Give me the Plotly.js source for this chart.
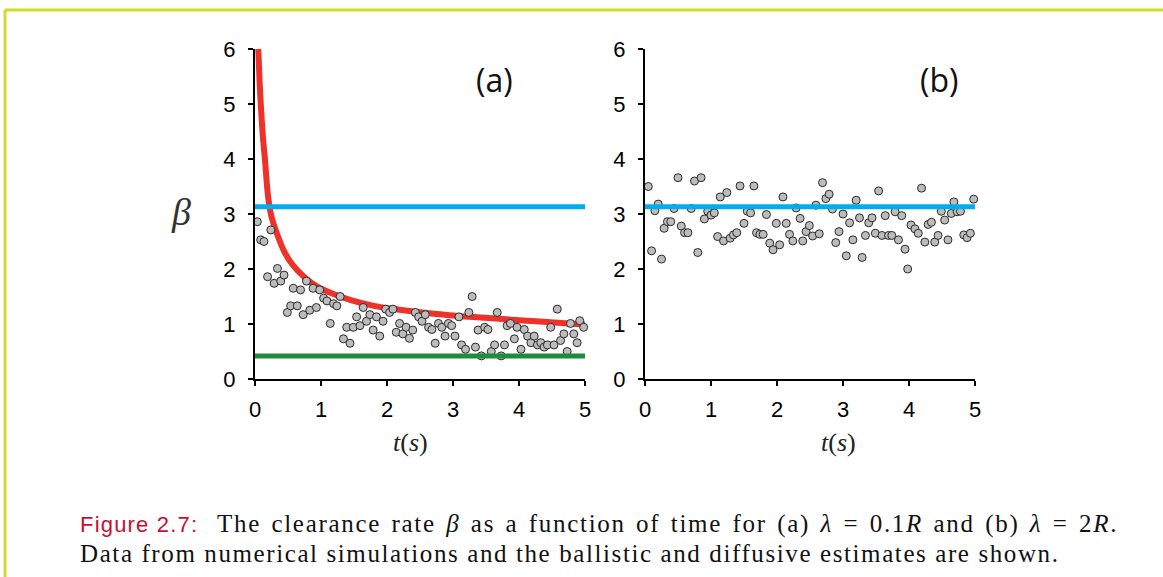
<!DOCTYPE html>
<html>
<head>
<meta charset="utf-8">
<script src="https://cdn.plot.ly/plotly-3.0.1.min.js"></script>
<style>html,body{margin:0;padding:0;background:#fff;}#chart{width:1163px;height:577px;}</style>
</head>
<body>
<div id="chart"></div>
<script>
// ---- Data ----
const tA = [0.035,0.086,0.136,0.24,0.19,0.34,0.29,0.39,0.44,0.49,0.54,0.58,0.64,0.69,0.73,0.78,0.83,0.88,0.93,0.98,
1.04,1.09,1.14,1.19,1.24,1.29,1.34,1.39,1.44,1.49,1.54,1.59,1.64,1.69,1.74,1.79,1.84,1.89,1.94,1.98,
2.04,2.09,2.14,2.19,2.24,2.29,2.34,2.39,2.43,2.48,2.53,2.58,2.63,2.68,2.73,2.78,2.83,2.88,2.93,2.98,
3.03,3.09,3.13,3.19,3.24,3.29,3.34,3.38,3.43,3.48,3.53,3.58,3.63,3.67,3.73,3.78,3.82,3.87,3.93,3.97,
4.03,4.08,4.13,4.18,4.23,4.28,4.33,4.38,4.43,4.48,4.53,4.58,4.63,4.68,4.73,4.78,4.83,4.88,4.92,4.98];
const betaA = [2.86,2.53,2.50,2.71,1.86,2.01,1.74,1.78,1.89,1.21,1.33,1.65,1.33,1.62,1.17,1.78,1.25,1.65,1.30,1.62,
1.47,1.42,1.01,1.37,1.33,1.50,0.73,0.94,0.65,0.94,1.13,0.97,1.30,1.05,1.17,0.89,1.13,0.78,1.05,1.27,
1.21,1.27,0.85,1.01,0.82,0.94,0.74,0.89,1.21,1.13,1.05,1.17,0.94,0.90,0.65,1.01,0.94,0.78,1.01,0.97,
0.78,1.13,0.62,0.54,1.21,1.50,0.58,0.89,0.42,0.94,0.90,0.50,0.62,1.21,0.42,0.62,0.97,1.01,0.73,0.94,
0.54,0.90,0.78,0.66,0.78,0.62,0.66,0.58,0.62,0.94,0.62,1.27,0.70,0.82,0.50,1.01,0.82,0.66,1.06,0.94];

const tB = [0.05,0.10,0.15,0.20,0.25,0.29,0.34,0.39,0.44,0.50,0.55,0.60,0.65,0.70,0.75,0.80,0.85,0.90,0.95,1.00,
1.05,1.10,1.14,1.19,1.24,1.29,1.34,1.39,1.44,1.50,1.55,1.60,1.65,1.69,1.74,1.79,1.84,1.89,1.94,1.99,
2.04,2.09,2.14,2.19,2.24,2.29,2.35,2.39,2.44,2.49,2.54,2.59,2.64,2.69,2.74,2.79,2.84,2.89,2.94,3.00,
3.05,3.10,3.15,3.20,3.25,3.29,3.34,3.39,3.44,3.49,3.54,3.59,3.64,3.69,3.74,3.79,3.84,3.89,3.94,3.98,
4.03,4.09,4.14,4.19,4.24,4.29,4.34,4.39,4.44,4.49,4.54,4.59,4.64,4.68,4.73,4.78,4.83,4.88,4.93,4.98];
const betaB = [3.50,2.33,3.06,3.18,2.18,2.74,2.86,2.86,3.10,3.66,2.78,2.66,2.66,3.10,3.60,2.30,3.66,2.91,3.05,2.98,
3.02,2.59,3.31,2.51,3.39,2.56,2.62,2.66,3.51,2.83,3.05,3.02,3.51,2.66,2.63,2.63,2.99,2.47,2.35,2.83,
2.44,3.31,2.83,2.63,2.51,3.11,2.92,2.51,2.68,2.79,2.60,3.16,2.64,3.57,3.28,3.36,3.09,2.48,2.68,3.00,
2.24,2.84,2.53,3.25,2.93,2.21,2.61,2.84,2.93,2.65,3.42,2.61,2.97,2.61,2.61,3.04,2.53,2.97,2.36,2.00,
2.80,2.73,2.65,3.47,2.49,2.81,2.85,2.49,2.61,3.05,2.89,2.53,3.01,3.22,3.04,3.05,2.62,2.57,2.65,3.27];

// red estimate curve (panel a), read at sample times
const curveT = [0.05,0.07,0.09,0.12,0.15,0.2,0.25,0.33,0.45,0.58,0.75,0.93,1.2,1.44,1.8,2.25,2.75,3.25,3.75,4.25,4.75,5.0];
const curveBeta = [6.0,5.4,4.95,4.4,4.0,3.3,2.95,2.65,2.3,2.06,1.85,1.69,1.54,1.44,1.33,1.25,1.18,1.13,1.09,1.05,1.01,0.99];

// horizontal estimates
const lineT = [0, 5];
const blueBeta = [3.13, 3.13];
const greenBeta = [0.42, 0.42];

const xTicks = [0,1,2,3,4,5];
const yTicks = [0,1,2,3,4,5,6];
const panelLabels = ['(a)', '(b)'];
const captionHead = 'Figure 2.7:';
const captionLine1 = 'The clearance rate <i>β</i> as a function of time for (a) <i>λ</i> = 0.1<i>R</i> and (b) <i>λ</i> = 2<i>R</i>.';
const captionLine2 = 'Data from numerical simulations and the ballistic and diffusive estimates are shown.';

// ---- Layout helpers ----
const W = 1163, H = 577;
const px = v => v / W;
const py = v => 1 - v / H;

const marker = {size: 8, color: '#bcbcbc', line: {color: '#2a2a2a', width: 1}};
const RED = '#ee3129', BLUE = '#00aeef', GREEN = '#1f8b3b';

const traces = [
  {x: curveT, y: curveBeta, mode: 'lines', line: {color: RED, width: 6, shape: 'spline', smoothing: 1}, xaxis: 'x', yaxis: 'y', hoverinfo: 'skip'},
  {x: tA, y: betaA, mode: 'markers', marker: marker, xaxis: 'x', yaxis: 'y', cliponaxis: false},
  {x: lineT, y: blueBeta, mode: 'lines', line: {color: BLUE, width: 5}, xaxis: 'x', yaxis: 'y'},
  {x: lineT, y: greenBeta, mode: 'lines', line: {color: GREEN, width: 5}, xaxis: 'x', yaxis: 'y'},
  {x: tB, y: betaB, mode: 'markers', marker: marker, xaxis: 'x2', yaxis: 'y2', cliponaxis: false},
  {x: lineT, y: blueBeta, mode: 'lines', line: {color: BLUE, width: 5}, xaxis: 'x2', yaxis: 'y2'}
];

const tickFont = {family: 'Liberation Sans, Arial, sans-serif', size: 22, color: '#000'};
function xax(domain, anchor) {
  return {domain: domain, anchor: anchor, range: [0, 5], tickvals: xTicks, ticktext: xTicks.map(String),
    showline: true, linecolor: '#000', linewidth: 2, ticks: 'outside', ticklen: 5, tickwidth: 1.5, tickcolor: '#000',
    showgrid: false, zeroline: false, tickfont: tickFont, ticklabelstandoff: 5, fixedrange: true};
}
function yax(domain, anchor) {
  return {domain: domain, anchor: anchor, range: [0, 6], tickvals: yTicks, ticktext: yTicks.map(String),
    showline: true, linecolor: '#000', linewidth: 2, ticks: 'outside', ticklen: 5, tickwidth: 1.5, tickcolor: '#000',
    showgrid: false, zeroline: false, tickfont: tickFont, ticklabelstandoff: 8, fixedrange: true};
}

const yDom = [py(379), py(49)];
const layout = {
  width: W, height: H, showlegend: false,
  margin: {l: 0, r: 0, t: 0, b: 0, pad: 0},
  paper_bgcolor: '#fff', plot_bgcolor: 'rgba(0,0,0,0)',
  xaxis: xax([px(255), px(585)], 'y'),
  yaxis: yax(yDom, 'x'),
  xaxis2: xax([px(645), px(975)], 'y2'),
  yaxis2: yax(yDom, 'x2'),
  shapes: [
    {type: 'line', xref: 'paper', yref: 'paper', x0: px(5), x1: px(1170), y0: py(10), y1: py(10), line: {color: '#cfdc2e', width: 3}},
    {type: 'line', xref: 'paper', yref: 'paper', x0: px(5), x1: px(5), y0: py(10), y1: py(590), line: {color: '#cfdc2e', width: 3}}
  ],
  annotations: [
    {text: panelLabels[0], xref: 'paper', yref: 'paper', x: px(494), y: py(80), showarrow: false, xanchor: 'center', yanchor: 'middle',
     font: {family: 'Open Sans, sans-serif', size: 32, color: '#111'}},
    {text: panelLabels[1], xref: 'paper', yref: 'paper', x: px(939), y: py(80), showarrow: false, xanchor: 'center', yanchor: 'middle',
     font: {family: 'Open Sans, sans-serif', size: 32, color: '#111'}},
    {text: '<i>β</i>', xref: 'paper', yref: 'paper', x: px(181), y: py(212), showarrow: false, xanchor: 'center', yanchor: 'middle',
     font: {family: 'Liberation Serif, serif', size: 38, color: '#333'}},
    {text: '<i>t</i>(<i>s</i>)', xref: 'paper', yref: 'paper', x: px(410), y: py(442), showarrow: false, xanchor: 'center', yanchor: 'middle',
     font: {family: 'Liberation Serif, serif', size: 26, color: '#222'}},
    {text: '<i>t</i>(<i>s</i>)', xref: 'paper', yref: 'paper', x: px(838), y: py(442), showarrow: false, xanchor: 'center', yanchor: 'middle',
     font: {family: 'Liberation Serif, serif', size: 26, color: '#222'}},
    {text: captionHead, xref: 'paper', yref: 'paper', x: px(78), y: py(524), showarrow: false, xanchor: 'left', yanchor: 'middle', align: 'left',
     font: {family: 'Liberation Sans, sans-serif', size: 22, color: '#c8102e'}},
    {text: captionLine1, xref: 'paper', yref: 'paper', x: px(215), y: py(524), showarrow: false, xanchor: 'left', yanchor: 'middle', align: 'left',
     font: {family: 'Liberation Serif, serif', size: 25, color: '#111'}},
    {text: captionLine2, xref: 'paper', yref: 'paper', x: px(78), y: py(553), showarrow: false, xanchor: 'left', yanchor: 'middle', align: 'left',
     font: {family: 'Liberation Serif, serif', size: 25, color: '#111'}}
  ]
};

Plotly.newPlot('chart', traces, layout, {staticPlot: true, displayModeBar: false}).then(function (gd) {
  // widen caption text to match the wide TeX serif of the reference (left-aligned, so it grows rightwards)
  const texts = gd.querySelectorAll('.annotation-text');
  const spacing = {5: ['1.2px', '0px'], 6: ['1.7px', '2.5px'], 7: ['1.6px', '0px']};
  texts.forEach(function (t, i) {
    if (spacing[i]) { t.style.letterSpacing = spacing[i][0]; t.style.wordSpacing = spacing[i][1]; }
  });
});
</script>
</body>
</html>
